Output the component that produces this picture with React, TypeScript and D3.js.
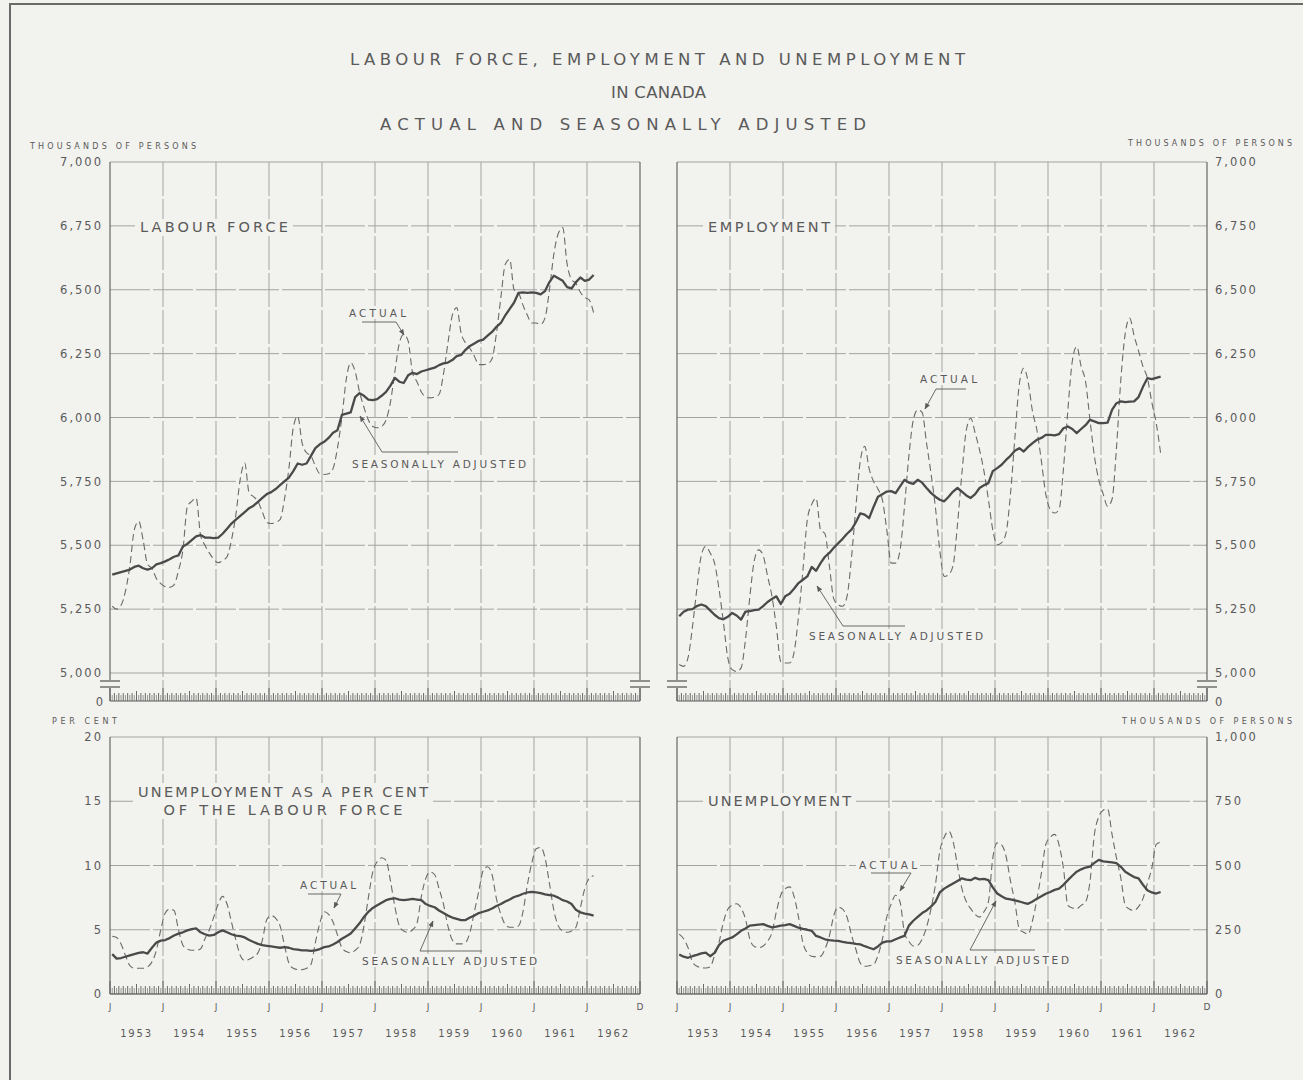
import * as d3 from 'd3'

// one value per month, Jan 1953 .. Feb 1962
const yearLabels = ['1953', '1954', '1955', '1956', '1957', '1958', '1959', '1960', '1961', '1962']
const thousandsTicks = [5000, 5250, 5500, 5750, 6000, 6250, 6500, 6750, 7000]
const percentTicks = [0, 5, 10, 15, 20]
const unemploymentTicks = [0, 250, 500, 750, 1000]

const labourForceActual = [
  5262, 5250, 5265, 5320, 5420, 5560, 5594, 5520, 5425, 5410, 5370, 5350,
  5338, 5335, 5345, 5400, 5480, 5650, 5672, 5685, 5540, 5500, 5470, 5445,
  5432, 5440, 5455, 5520, 5620, 5760, 5822, 5705, 5690, 5672, 5630, 5590,
  5585, 5590, 5600, 5680, 5800, 5960, 6005, 5900, 5862, 5850, 5810, 5780,
  5777, 5780, 5800, 5880, 6000, 6150, 6214, 6180, 6100, 6040, 5990, 5965,
  5960, 5965, 5990, 6060, 6180, 6290, 6325, 6300, 6175, 6140, 6100, 6080,
  6077, 6080, 6090, 6170, 6290, 6400, 6430, 6330, 6292, 6270, 6240, 6207,
  6207, 6210, 6230, 6330, 6470, 6600, 6619, 6500, 6488, 6440, 6400, 6370,
  6370, 6364, 6390, 6500, 6640, 6720, 6743, 6600, 6540, 6525, 6490, 6470,
  6460, 6410,
]
const labourForceAdjusted = [
  5385, 5390, 5395, 5400, 5405, 5415, 5420, 5410, 5405, 5410, 5425, 5430,
  5437, 5445, 5455, 5460, 5495, 5505, 5520, 5535, 5540, 5530, 5530, 5528,
  5530, 5545, 5565, 5585, 5600, 5615, 5630, 5645, 5655, 5670, 5685, 5700,
  5708, 5720, 5735, 5750, 5765, 5790, 5820, 5815, 5820, 5850, 5880, 5895,
  5905, 5920, 5940, 5950, 6010, 6015, 6020, 6080, 6095, 6085, 6070, 6068,
  6072, 6085, 6100, 6125, 6155, 6140, 6135, 6165, 6175, 6170, 6180, 6185,
  6190, 6195, 6205, 6212, 6215, 6225, 6240, 6245, 6265, 6280, 6290, 6300,
  6305, 6320, 6335, 6355, 6370, 6400, 6425, 6450, 6488, 6490, 6488, 6490,
  6488, 6482, 6495, 6530, 6555, 6545, 6535, 6510, 6505, 6530, 6548, 6535,
  6540, 6558,
]
const employmentActual = [
  5033, 5026, 5060, 5180, 5330, 5460, 5495, 5470, 5430, 5330, 5200, 5060,
  5013, 5006, 5020, 5130, 5300, 5440, 5482, 5460, 5380, 5300, 5180, 5045,
  5039, 5039, 5080, 5220, 5400, 5600, 5660, 5684, 5560, 5545, 5420, 5290,
  5267, 5261, 5300, 5450, 5650, 5830, 5887, 5800, 5750, 5720, 5678, 5560,
  5430, 5430, 5480, 5650, 5850, 5990, 6030, 6020, 5900, 5782, 5650, 5480,
  5378, 5385, 5420, 5580, 5780, 5950, 5997, 5940, 5873, 5790, 5680, 5560,
  5502, 5510, 5548, 5700, 5920, 6130, 6193, 6140, 6023, 5950, 5830, 5700,
  5640, 5626, 5640, 5800, 6030, 6220, 6278, 6200, 6141, 5991, 5850, 5756,
  5700, 5652, 5680, 5880, 6150, 6330, 6389, 6320, 6260, 6200, 6154, 6060,
  5978, 5860,
]
const employmentAdjusted = [
  5222, 5240, 5248, 5250, 5262, 5268, 5262, 5245, 5228, 5215, 5210, 5220,
  5235, 5225, 5209, 5240, 5242, 5246, 5248, 5262, 5278, 5290, 5300, 5270,
  5300, 5310, 5330, 5352, 5365, 5378, 5415, 5400, 5430, 5455, 5470, 5490,
  5508, 5525, 5545, 5561, 5590, 5625, 5620, 5606, 5650, 5690, 5700, 5710,
  5712, 5704, 5730, 5756, 5745, 5740, 5756, 5745, 5724, 5705, 5690, 5678,
  5672, 5690, 5710, 5724, 5710, 5695, 5685, 5700, 5724, 5735, 5743, 5790,
  5802, 5815, 5834, 5850, 5870, 5880, 5867, 5885, 5900, 5913, 5920, 5932,
  5932, 5930, 5935, 5958, 5965, 5955, 5939, 5955, 5970, 5991, 5985, 5978,
  5978, 5980, 6030, 6056, 6063, 6060, 6062, 6063, 6080, 6120, 6154, 6150,
  6155, 6160,
]
const unemploymentRateActual = [
  4.5, 4.4, 3.9, 3.0, 2.2, 2.0, 2.0, 2.0, 2.1, 2.5, 3.4, 5.0,
  6.3, 6.6, 6.5, 5.0, 3.8, 3.5, 3.4, 3.4, 3.5, 4.3, 5.0, 6.0,
  7.0, 7.6, 7.0, 5.6, 4.2, 3.0, 2.6, 2.7, 2.9, 3.2, 4.2, 5.8,
  6.1, 5.9, 5.3, 3.8, 2.4, 2.0, 1.9, 1.9, 2.0, 2.3, 4.0, 5.5,
  6.4, 6.2, 5.6, 4.6, 3.6, 3.3, 3.2, 3.4, 3.8, 5.3, 7.5, 9.5,
  10.3, 10.6, 10.4, 8.8, 6.8, 5.3, 4.9, 4.8, 5.0, 5.5, 7.6, 9.0,
  9.5, 9.3, 8.2, 7.0, 5.3, 4.2, 3.9, 3.9, 4.0, 4.8, 6.4, 8.0,
  9.6, 9.9, 9.3, 7.4, 6.2, 5.4, 5.2, 5.2, 5.3, 6.4, 8.5, 10.2,
  11.3, 11.4, 10.6, 8.6, 6.5, 5.3, 4.9, 4.8, 4.9, 5.2, 6.7, 8.2,
  9.0, 9.2,
]
const unemploymentRateAdjusted = [
  3.1, 2.75, 2.8, 2.9, 3.0, 3.1, 3.2, 3.25, 3.15, 3.6, 4.0, 4.15,
  4.2, 4.35, 4.55, 4.7, 4.8, 4.95, 5.05, 5.1, 4.8, 4.65, 4.55, 4.6,
  4.8, 4.95, 4.8, 4.65, 4.55, 4.5, 4.4, 4.2, 4.05, 3.9, 3.8, 3.75,
  3.7, 3.65, 3.6, 3.65, 3.6, 3.5, 3.45, 3.4, 3.4, 3.35, 3.4, 3.5,
  3.65, 3.7, 3.85, 4.05, 4.3, 4.5, 4.7, 5.1, 5.5, 6.0, 6.4, 6.7,
  6.9, 7.1, 7.3, 7.4, 7.45, 7.35, 7.3, 7.35, 7.4, 7.35, 7.3, 7.0,
  6.85, 6.75, 6.5, 6.3, 6.1, 5.95, 5.85, 5.75, 5.75, 5.95, 6.1, 6.3,
  6.4, 6.5, 6.65, 6.85, 7.0, 7.2, 7.35, 7.55, 7.65, 7.8, 7.9, 7.95,
  7.9, 7.85, 7.75, 7.7, 7.65, 7.5, 7.3, 7.2, 7.0, 6.55, 6.35, 6.25,
  6.2, 6.1,
]
const unemploymentActual = [
  233, 215, 180, 125, 108, 103, 101, 105, 150, 200, 279, 330,
  345, 351, 335, 292, 213, 185, 180, 187, 205, 239, 320, 385,
  410, 417, 380, 300, 200, 160, 147, 145, 147, 175, 226, 305,
  338, 330, 299, 230, 174, 120, 108, 110, 114, 150, 213, 300,
  350, 384, 358, 239, 205, 187, 190, 213, 260, 330, 424, 555,
  610, 634, 595, 500, 411, 360, 332, 310, 299, 320, 358, 529,
  588, 580, 536, 440, 358, 253, 240, 233, 286, 370, 470, 582,
  610, 621, 580, 489, 345, 335, 332, 345, 358, 437, 620, 690,
  715, 720, 621, 530, 450, 345, 330, 325, 340, 371, 430, 489,
  582, 590,
]
const unemploymentAdjusted = [
  154, 145, 141, 147, 152, 158, 161, 147, 160, 190, 207, 214,
  220, 232, 246, 255, 266, 268, 270, 272, 265, 259, 262, 266,
  268, 272, 265, 258, 253, 250, 246, 226, 220, 213, 210, 208,
  207, 203, 200, 198, 195, 193, 186, 180, 174, 185, 200, 205,
  205, 213, 220, 226, 266, 285, 300, 315, 325, 340, 358, 395,
  410, 420, 430, 440, 450, 445, 443, 452, 446, 448, 443, 415,
  391, 380, 371, 368, 364, 360, 355, 351, 360, 371, 380, 390,
  397, 405, 410, 425, 443, 460, 476, 485, 492, 496, 510, 522,
  516, 514, 512, 509, 495, 476, 465, 455, 450, 425, 404, 395,
  391, 397,
]

const BG = '#f2f2ef'
const INK = '#5a5a5a'
const GRID = '#a3a3a3'
const FONT = '"DejaVu Sans", "Liberation Sans", sans-serif'

type Note = { text: string; x: number; y: number; w: number; leader: [number, number][] }
type Label = { lines: string[]; x: number; y: number; w: number; h: number; widths: number[] }

interface PanelProps {
  x0: number
  x1: number
  y0: number
  y1: number
  domain: [number, number]
  ticks: number[]
  side: 'left' | 'right'
  broken: boolean
  actual: number[]
  adjusted: number[]
  label: Label
  notes: Note[]
  showMonths: boolean
}

function Panel({ x0, x1, y0, y1, domain, ticks, side, broken, actual, adjusted, label, notes, showMonths }: PanelProps) {
  const x = d3.scaleLinear().domain([0, 120]).range([x0, x1])
  const y = d3.scaleLinear().domain(domain).range([y1, y0])
  const smooth = d3.line<number>().x((_, i) => x(i + 0.5)).y(d => y(d)).curve(d3.curveMonotoneX)
  const jagged = d3.line<number>().x((_, i) => x(i + 0.5)).y(d => y(d))
  const base = broken ? y1 + 28 : y1
  const fmt = d3.format(',')
  const months = d3.range(0, 121)
  const labelX = side === 'left' ? x0 - 7 : x1 + 8
  const anchor = side === 'left' ? 'end' : 'start'

  return (
    <g>
      {/* vertical grid at each January */}
      {months.filter(m => m % 12 === 0 && m > 0 && m < 120).map(m => (
        <line key={'v' + m} x1={x(m)} x2={x(m)} y1={y0} y2={base} stroke={GRID} strokeDasharray="34 3" />
      ))}
      {ticks.map(t => (
        <line key={'h' + t} x1={x0} x2={x1} y1={y(t)} y2={y(t)} stroke={GRID}
          strokeDasharray={t === domain[1] || t === domain[0] ? undefined : '40 3'} />
      ))}
      <line x1={x0} x2={x0} y1={y0} y2={base} stroke={INK} strokeWidth={1.1} />
      <line x1={x1} x2={x1} y1={y0} y2={base} stroke={INK} strokeWidth={1.1} />
      <line x1={x0} x2={x1} y1={base} y2={base} stroke={INK} strokeWidth={1.1} />

      {/* monthly ruler */}
      {months.map(m => (
        <line key={'r' + m} x1={x(m)} x2={x(m)} y1={base} y2={base - (m % 12 === 0 ? 13 : m % 6 === 0 ? 10 : 8)}
          stroke={INK} strokeWidth={0.9} />
      ))}
      {months.slice(0, 120).map(m => (
        <line key={'rh' + m} x1={x(m + 0.5)} x2={x(m + 0.5)} y1={base} y2={base - 6} stroke={INK} strokeWidth={0.6} />
      ))}

      {broken && [x0, x1].map(bx => (
        <g key={'b' + bx}>
          <rect x={bx - 10} y={y1 + 7} width={20} height={8} fill={BG} />
          <line x1={bx - 10} x2={bx + 10} y1={y1 + 8} y2={y1 + 8} stroke={INK} strokeWidth={1.3} />
          <line x1={bx - 10} x2={bx + 10} y1={y1 + 14} y2={y1 + 14} stroke={INK} strokeWidth={1.3} />
        </g>
      ))}

      {/* tick labels */}
      {ticks.map(t => (
        <text key={'t' + t} x={labelX} y={y(t)} dy="0.36em" textAnchor={anchor} fontSize={11.5}
          letterSpacing={2} fill={INK} fontFamily={FONT}>{fmt(t)}</text>
      ))}
      {broken && (
        <text x={labelX} y={base + 1} dy="0.36em" textAnchor={anchor} fontSize={11.5} fill={INK} fontFamily={FONT}>0</text>
      )}

      {/* panel title sitting on a grid line */}
      <rect x={label.x - 5} y={label.y - label.h / 2} width={label.w + 10} height={label.h} fill={BG} />
      {label.lines.map((l, i) => (
        <text key={l} x={label.x + (label.w - label.widths[i]) / 2} y={label.y - (label.lines.length - 1) * 9 + i * 18}
          dy="0.36em" fontSize={14.5} fill={INK} fontFamily={FONT}
          textLength={label.widths[i]} lengthAdjust="spacing">{l}</text>
      ))}

      <path d={smooth(actual) ?? ''} fill="none" stroke="#6a6a6a" strokeWidth={1.1} strokeDasharray="7 4" />
      <path d={jagged(adjusted) ?? ''} fill="none" stroke="#4a4a4a" strokeWidth={2.3} strokeLinejoin="round" />

      {notes.map(n => (
        <g key={n.text}>
          <rect x={n.x - 3} y={n.y - 7} width={n.w + 6} height={13} fill={BG} />
          <text x={n.x} y={n.y} dy="0.36em" fontSize={10.5} fill={INK} fontFamily={FONT}
            textLength={n.w} lengthAdjust="spacing">{n.text}</text>
          <path d={d3.line()(n.leader) ?? ''} fill="none" stroke={INK} strokeWidth={0.9} markerEnd="url(#arrow)" />
        </g>
      ))}

      {showMonths && (
        <g>
          {months.filter(m => m % 12 === 0 && m < 120).map(m => (
            <text key={'j' + m} x={x(m)} y={base + 13} dy="0.36em" textAnchor="middle" fontSize={9}
              fill={INK} fontFamily={FONT}>J</text>
          ))}
          <text x={x(120)} y={base + 13} dy="0.36em" textAnchor="middle" fontSize={9} fill={INK} fontFamily={FONT}>D</text>
          {yearLabels.map((yr, i) => (
            <text key={yr} x={x(i * 12 + 6)} y={base + 39} dy="0.36em" textAnchor="middle" fontSize={10}
              letterSpacing={1.8} fill={INK} fontFamily={FONT}>{yr}</text>
          ))}
        </g>
      )}
    </g>
  )
}

export default function App() {
  const small = { fontSize: 8, fill: INK, fontFamily: FONT, letterSpacing: 1 }
  return (
    <div style={{ position: 'absolute', left: 0, top: 0 }}>
      <svg width={1303} height={1080} style={{ display: 'block', background: BG }}>
        <defs>
          <marker id="arrow" viewBox="0 0 10 10" refX="9" refY="5" markerWidth="7" markerHeight="7" orient="auto">
            <path d="M0,1 L10,5 L0,9 z" fill={INK} />
          </marker>
        </defs>
        <path d="M10,1080 L10,4 L1303,4" fill="none" stroke="#6a6a6a" strokeWidth={2} />

        <g fill={INK} fontFamily={FONT} fontSize={16.5}>
          <text x={350} y={65} textLength={615} lengthAdjust="spacing">LABOUR FORCE, EMPLOYMENT AND UNEMPLOYMENT</text>
          <text x={611} y={98} textLength={95} lengthAdjust="spacing">IN CANADA</text>
          <text x={380} y={130} textLength={486} lengthAdjust="spacing">ACTUAL AND SEASONALLY ADJUSTED</text>
        </g>

        <text x={30} y={149} {...small} textLength={167} lengthAdjust="spacing">THOUSANDS OF PERSONS</text>
        <text x={1128} y={146} {...small} textLength={165} lengthAdjust="spacing">THOUSANDS OF PERSONS</text>
        <text x={52} y={724} {...small} textLength={66} lengthAdjust="spacing">PER CENT</text>
        <text x={1122} y={724} {...small} textLength={171} lengthAdjust="spacing">THOUSANDS OF PERSONS</text>

        <Panel x0={110} x1={640} y0={162} y1={673} domain={[5000, 7000]} ticks={thousandsTicks} side="left" broken
          actual={labourForceActual} adjusted={labourForceAdjusted} showMonths={false}
          label={{ lines: ['LABOUR FORCE'], x: 140, y: 227, w: 148, h: 16, widths: [148] }}
          notes={[
            { text: 'ACTUAL', x: 349, y: 313, w: 57, leader: [[362, 322], [396, 322], [404, 335]] },
            { text: 'SEASONALLY ADJUSTED', x: 352, y: 464, w: 174, leader: [[458, 452], [382, 452], [360, 416]] },
          ]} />
        <Panel x0={677} x1={1207} y0={162} y1={673} domain={[5000, 7000]} ticks={thousandsTicks} side="right" broken
          actual={employmentActual} adjusted={employmentAdjusted} showMonths={false}
          label={{ lines: ['EMPLOYMENT'], x: 708, y: 227, w: 122, h: 16, widths: [122] }}
          notes={[
            { text: 'ACTUAL', x: 920, y: 379, w: 57, leader: [[966, 389], [936, 389], [925, 409]] },
            { text: 'SEASONALLY ADJUSTED', x: 809, y: 636, w: 174, leader: [[905, 626], [843, 626], [817, 586]] },
          ]} />
        <Panel x0={110} x1={640} y0={737} y1={994} domain={[0, 20]} ticks={percentTicks} side="left" broken={false}
          actual={unemploymentRateActual} adjusted={unemploymentRateAdjusted} showMonths
          label={{ lines: ['UNEMPLOYMENT AS A PER CENT', 'OF THE LABOUR FORCE'], x: 138, y: 801, w: 290, h: 36, widths: [290, 239] }}
          notes={[
            { text: 'ACTUAL', x: 300, y: 885, w: 56, leader: [[308, 894], [341, 894], [334, 908]] },
            { text: 'SEASONALLY ADJUSTED', x: 362, y: 961, w: 175, leader: [[482, 951], [420, 951], [433, 921]] },
          ]} />
        <Panel x0={677} x1={1207} y0={737} y1={994} domain={[0, 1000]} ticks={unemploymentTicks} side="right" broken={false}
          actual={unemploymentActual} adjusted={unemploymentAdjusted} showMonths
          label={{ lines: ['UNEMPLOYMENT'], x: 708, y: 801, w: 143, h: 16, widths: [143] }}
          notes={[
            { text: 'ACTUAL', x: 859, y: 865, w: 58, leader: [[871, 873], [911, 873], [900, 891]] },
            { text: 'SEASONALLY ADJUSTED', x: 896, y: 960, w: 173, leader: [[1035, 950], [970, 950], [996, 901]] },
          ]} />
      </svg>
    </div>
  )
}
